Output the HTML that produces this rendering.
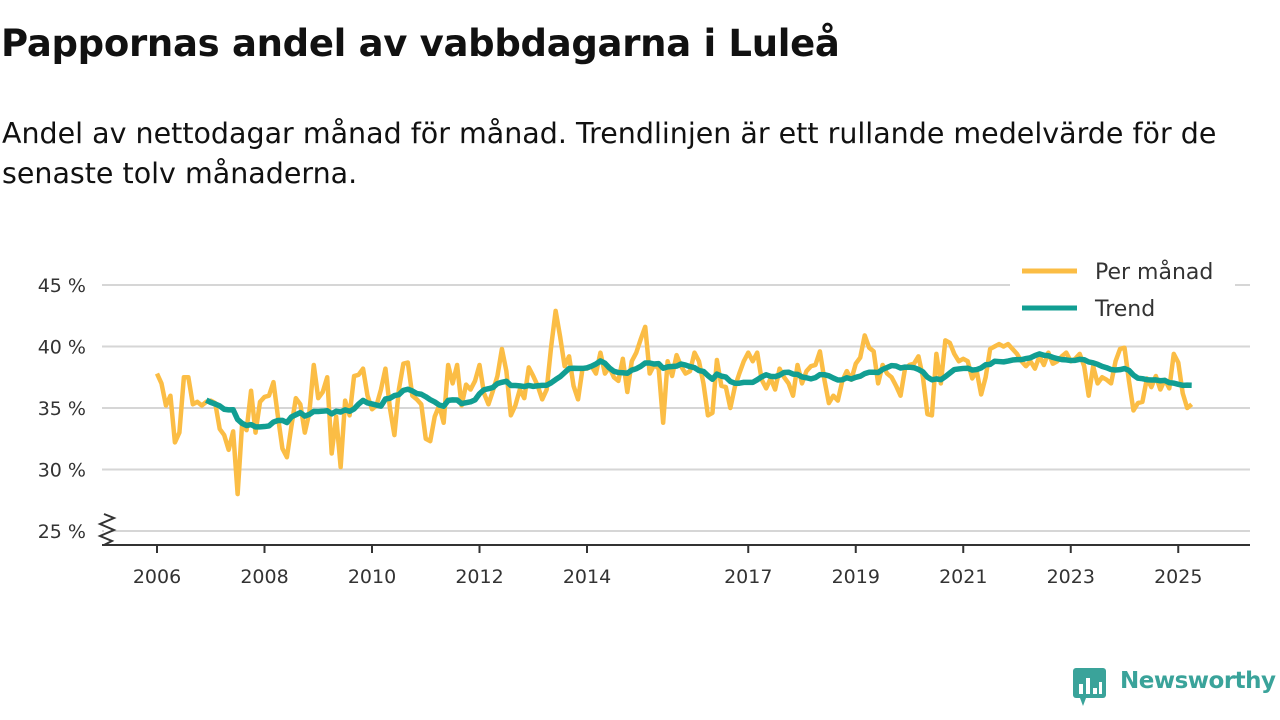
<!DOCTYPE html>
<html><head><meta charset="utf-8"><style>
body{margin:0;width:1280px;height:720px;background:#fff;font-family:"DejaVu Sans","Liberation Sans",sans-serif;overflow:hidden;position:relative}
h1{position:absolute;left:1px;top:22px;margin:0;font-size:37px;font-weight:bold;color:#111;letter-spacing:-0.3px}
p.sub{position:absolute;left:2px;top:114px;margin:0;font-size:28.5px;line-height:40px;color:#111;width:1240px}
svg{position:absolute;left:0;top:0}
.logo{position:absolute;left:1120px;top:668px;font-size:23px;font-weight:bold;color:#3aa39a;letter-spacing:-0.5px}
</style></head><body>
<h1>Pappornas andel av vabbdagarna i Luleå</h1>
<p class="sub">Andel av nettodagar månad för månad. Trendlinjen är ett rullande medelvärde för de senaste tolv månaderna.</p>
<svg id="chart" width="1280" height="720"></svg>
<svg width="1280" height="720" style="pointer-events:none"><rect x="1073" y="668" width="33" height="30" rx="3" fill="#3aa39a"/><polygon points="1080,698 1086,698 1083,706" fill="#3aa39a"/><rect x="1079" y="684" width="4" height="10" fill="#fff"/><rect x="1086" y="678" width="4" height="16" fill="#fff"/><rect x="1093" y="688" width="4" height="6" fill="#fff"/><rect x="1099" y="682" width="3" height="12" fill="#fff"/></svg>
<div class="logo">Newsworthy</div>
<script>
const yTicks=[25,30,35,40,45];
const yTickLabels=["25 %","30 %","35 %","40 %","45 %"];
const xTicks=[2006,2008,2010,2012,2014,2017,2019,2021,2023,2025];
const startYear=2006;
const monthly=[
37.8,37.0,35.2,36.0,32.2,33.0,37.5,37.5,35.3,35.5,35.2,35.5,
35.6,35.4,33.3,32.8,31.6,33.1,28.0,33.7,33.2,36.4,33.0,35.5,
35.9,36.0,37.1,34.3,31.7,31.0,33.5,35.8,35.3,33.0,34.6,38.5,
35.8,36.3,37.5,31.3,34.3,30.2,35.6,34.4,37.6,37.7,38.2,36.0,
34.9,35.2,36.5,38.2,35.0,32.8,36.5,38.6,38.7,36.0,35.7,35.3,
32.5,32.3,34.3,35.2,33.8,38.5,37.0,38.5,35.2,36.9,36.5,37.2,
38.5,36.2,35.3,36.4,37.6,39.8,38.0,34.4,35.2,36.5,35.8,38.3,
37.6,36.8,35.7,36.5,40.0,42.9,40.8,38.4,39.2,36.8,35.7,38.2,
38.2,38.4,37.8,39.5,37.8,38.3,37.5,37.2,39.0,36.3,38.8,39.5,
40.6,41.6,37.8,38.5,38.2,33.8,38.8,37.6,39.3,38.4,37.8,38.0,
39.5,38.8,37.0,34.4,34.6,38.9,36.8,36.7,35.0,36.7,37.8,38.8,
39.5,38.8,39.5,37.3,36.6,37.4,36.5,38.2,37.5,37.0,36.0,38.5,
37.0,38.0,38.4,38.5,39.6,37.3,35.4,36.0,35.6,37.2,38.0,37.3,
38.6,39.1,40.9,39.9,39.6,37.0,38.5,37.8,37.5,36.8,36.0,38.2,
38.5,38.6,39.2,37.5,34.5,34.4,39.4,37.0,40.5,40.3,39.4,38.8,
39.0,38.8,37.4,38.0,36.1,37.5,39.8,40.0,40.2,40.0,40.2,39.8,
39.4,38.8,38.4,38.8,38.2,39.2,38.5,39.5,38.6,38.8,39.2,39.5,
38.8,39.0,39.4,38.4,36.0,38.4,37.0,37.5,37.3,37.0,38.8,39.8,
39.9,37.2,34.8,35.4,35.5,37.4,36.7,37.6,36.5,37.3,36.6,39.4,
38.7,36.2,35.0,35.3];
const trendWindow=12;

const svg=document.getElementById('chart');const NS="http://www.w3.org/2000/svg";
const X=t=>157+(t-2006)*53.75;
const Y=v=>531-(v-25)*12.3;
function mk(tag,attrs,parent){const e=document.createElementNS(NS,tag);for(const k in attrs)e.setAttribute(k,attrs[k]);(parent||svg).appendChild(e);return e;}
yTicks.forEach((v,i)=>{
 const g=mk('line',{x1:102,x2:1250,y1:Y(v),y2:Y(v),stroke:'#d6d6d6','stroke-width':2});
 
 
 const t=mk('text',{x:86,y:Y(v)+7,'text-anchor':'end','font-size':19,fill:'#333'});t.textContent=yTickLabels[i];
 
 
});
const ax=mk('line',{x1:102,x2:1250,y1:545,y2:545,stroke:'#333','stroke-width':2});


const br=mk('polyline',{points:'104,514 114,518 100,524 114,530 100,536 112,541 104,545',fill:'#fff',stroke:'#333','stroke-width':2});


xTicks.forEach(y=>{
 const l=mk('line',{x1:X(y),x2:X(y),y1:545,y2:553,stroke:'#333','stroke-width':2});
 
 
 const t=mk('text',{x:X(y),y:583,'text-anchor':'middle','font-size':19,fill:'#333'});t.textContent=y;
 
 
});
const mp=monthly.map((v,i)=>[X(startYear+i/12),Y(v)]);
const p1=mk('polyline',{points:mp.map(p=>p.join(',')).join(' '),fill:'none',stroke:'#fbbd45','stroke-width':4.5,'stroke-linejoin':'round'});


const tp=[];
for(let i=trendWindow-1;i<monthly.length;i++){let s=0;for(let j=i-trendWindow+1;j<=i;j++)s+=monthly[j];tp.push([X(startYear+i/12),Y(s/trendWindow)]);}
const p2=mk('polyline',{points:tp.map(p=>p.join(',')).join(' '),fill:'none',stroke:'#119e92','stroke-width':5.5,'stroke-linejoin':'round'});


const lg=mk('rect',{x:1010,y:250,width:225,height:78,fill:'#fff'});


[['Per månad','#fbbd45',271],['Trend','#119e92',308]].forEach(([n,c,y])=>{
 const l=mk('line',{x1:1022,x2:1077,y1:y,y2:y,stroke:c,'stroke-width':5});
 
 
 const t=mk('text',{x:1095,y:y+8,'font-size':22,fill:'#333'});t.textContent=n;
 
 
});
</script>
</body></html>
